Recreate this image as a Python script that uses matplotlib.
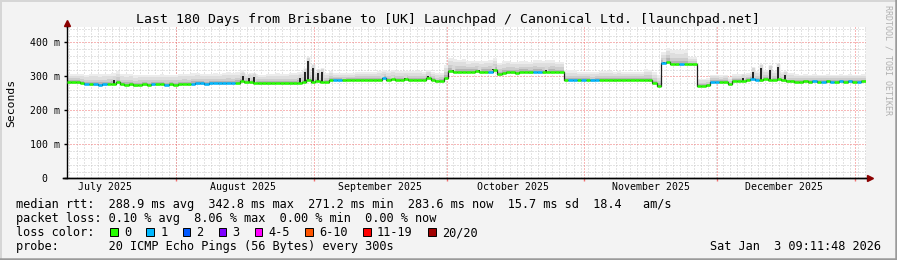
import numpy as np
import matplotlib
matplotlib.use('Agg')
import matplotlib.pyplot as plt
from matplotlib.lines import Line2D
from datetime import datetime

W, H = 897, 260
start = datetime(2025, 7, 7, 9, 11, 48)

# median rtt per day (ms), day 0 = Jul 7
median = [
    282, 282, 282, 281, 277, 276, 276, 275, 276, 277,
    278, 283, 276, 275, 276, 274, 275, 276, 275, 276,
    276, 277, 275, 276, 275, 276, 277, 276, 278, 279,
    279, 278, 279, 280, 279, 279, 280, 279, 281, 286,
    282, 283, 280, 279, 279, 279, 279, 280, 279, 279,
    279, 279, 281, 283, 290, 284, 286, 284, 283, 289,
    289, 289, 288, 289, 289, 289, 290, 289, 289, 289,
    289, 294, 290, 292, 289, 289, 291, 289, 289, 289,
    290, 295, 289, 285, 286, 296, 316, 314, 313, 314,
    313, 314, 315, 313, 314, 314, 320, 306, 310, 312,
    312, 311, 313, 313, 312, 314, 313, 312, 313, 314,
    313, 313, 289, 289, 289, 290, 289, 289, 288, 289,
    289, 289, 289, 288, 289, 289, 290, 289, 289, 289,
    289, 288, 280, 272, 340, 343, 336, 335, 335, 336,
    335, 335, 272, 272, 273, 284, 284, 283, 284, 276,
    286, 286, 286, 289, 292, 290, 288, 292, 290, 289,
    291, 288, 285, 285, 284, 284, 285, 284, 285, 284,
    284, 285, 284, 284, 285, 284, 285, 284, 284, 285,
]

# smoke spread above median, one value per 5-day block (ms)
spread5 = [20, 24, 24, 22, 22, 24, 22, 24, 20, 22, 24, 20,
           16, 18, 20, 20, 18, 28, 24, 26, 24, 26, 22, 18,
           20, 18, 24, 32, 16, 16, 16, 20, 18, 16, 16, 16]

# days where median came with 1 lost ping
loss1_days = [4, 6, 7, 8, 19, 22, 28, 29, 30, 31, 32, 33, 34, 35, 36, 37,
              60, 61, 71, 95, 105, 106, 113, 114, 116, 118, 119, 134, 138,
              145, 146, 154, 155, 168, 170, 172, 174, 176, 178]

# short latency spikes (day, peak ms)
spike_day = [10.7, 39.8, 41.0, 42.3, 52.6, 53.7, 54.4, 55.5, 56.6, 57.5,
             71.0, 73.3, 76.2, 81.4, 87.0, 93.0, 96.0, 108.0, 134.6,
             152.5, 154.6, 156.5, 158.5, 160.3, 161.8]
spike_top = [288, 300, 296, 298, 296, 313, 345, 323, 309, 313,
             296, 293, 296, 302, 320, 318, 322, 318, 343,
             296, 314, 323, 320, 328, 304]

month_starts = [datetime(2025, 8, 1), datetime(2025, 9, 1), datetime(2025, 10, 1),
                datetime(2025, 11, 1), datetime(2025, 12, 1), datetime(2026, 1, 1)]
month_mids = [datetime(2025, 7, 16), datetime(2025, 8, 16), datetime(2025, 9, 16),
              datetime(2025, 10, 16), datetime(2025, 11, 16), datetime(2025, 12, 16)]
month_labels = ['July 2025', 'August 2025', 'September 2025',
                'October 2025', 'November 2025', 'December 2025']

loss_labels = ['0', '1', '2', '3', '4-5', '6-10', '11-19', '20/20']
loss_colors = ['#26ff00', '#00b8ff', '#0059ff', '#7e00ff',
               '#ff00ff', '#ff5500', '#ff0000', '#a10000']

MONO = 'DejaVu Sans Mono'
YTOP = 445.9


def days(d):
    return (d - start).total_seconds() / 86400


fig = plt.figure(figsize=(W / 100, H / 100), dpi=100, facecolor='#f3f3f3')
ax = fig.add_axes([66.7 / W, 1 - 178.3 / H, (865.5 - 66.7) / W, (178.3 - 26.7) / H])
ax.set_facecolor('white')
ax.set_xlim(0, 180)
ax.set_ylim(0, YTOP)

# grid (dotted)
dots = (0, (1, 2))
minor_v = np.arange(days(month_starts[0]) - 1.6 * 15, 180, 1.6)
ax.vlines(minor_v, 0, YTOP, color='#c8c8c8', lw=0.72, ls=dots, zorder=1)
minor_h = [v for v in range(20, 446, 20) if v % 100]
ax.hlines(minor_h, 0, 180, color='#c8c8c8', lw=0.72, ls=dots, zorder=1)
ax.vlines([days(m) for m in month_starts], 0, YTOP, color='#f07070', lw=0.72,
          ls=dots, zorder=1)
ax.hlines([100, 200, 300, 400], 0, 180, color='#f07070', lw=0.72,
          ls=dots, zorder=1)

# smoke
med = np.array(median, float)
sp = np.repeat(spread5, 5).astype(float)
x = np.arange(len(med) + 1)


def ext(a):
    return np.append(a, a[-1])


for lo, hi, c in [(med - 4, med + 1.3 * sp, '#ececec'),
                  (med - 4, med + sp, '#dedede'),
                  (med - 3, med + 0.6 * sp, '#cdcdcd'),
                  (med - 2, med + 0.3 * sp, '#b4b4b4')]:
    ax.fill_between(x, ext(lo), ext(hi), step='post', color=c, lw=0, zorder=2)

base = med[np.array(spike_day).astype(int)]
ax.vlines(spike_day, base, np.array(spike_top) + 12, color='#d8d8d8', lw=2.5, zorder=2)
ax.vlines(spike_day, base, spike_top, color='#151515', lw=1.3, zorder=4)

# median, coloured by loss
ax.step(x, ext(med), where='post', color='#202020', lw=0.9, zorder=4)
d = np.arange(len(med))
is1 = np.isin(d, loss1_days)
ax.hlines(med[~is1], d[~is1], d[~is1] + 1, color=loss_colors[0], lw=1.8, zorder=5)
ax.hlines(med[is1], d[is1], d[is1] + 1, color=loss_colors[1], lw=1.8, zorder=5)

# axes
for s in ['top', 'right']:
    ax.spines[s].set_visible(False)
ax.spines['left'].set_linewidth(1)
ax.spines['bottom'].set_linewidth(1)
ax.spines['bottom'].set_bounds(-0.8, 180)
ax.add_line(Line2D([-0.0045, 1.003], [0, 0], transform=ax.transAxes, color='black',
                   lw=1, clip_on=False))
ax.add_line(Line2D([0, 0], [1, 1.02], transform=ax.transAxes, color='black',
                   lw=1, clip_on=False))
ax.plot([0], [1.025], marker='^', color='#8b0000', ms=4.5, transform=ax.transAxes,
        clip_on=False)
ax.plot([1.006], [0], marker='>', color='#8b0000', ms=4.5, transform=ax.transAxes,
        clip_on=False)

ax.set_yticks([0, 100, 200, 300, 400])
ax.set_yticklabels(['  0  ', '100 m', '200 m', '300 m', '400 m'])
ax.tick_params(axis='y', length=2.5, width=1, pad=2.6, labelsize=7.1)
ax.set_xticks([days(m) for m in month_starts])
ax.set_xticklabels([])
ax.set_xticks([days(m) for m in month_mids], minor=True)
ax.set_xticklabels(month_labels, minor=True)
ax.tick_params(axis='x', which='major', length=2.5, width=1, color='#f07070')
ax.tick_params(axis='x', which='minor', length=0, pad=3, labelsize=7.1)
for lab in ax.get_yticklabels() + ax.get_xticklabels(minor=True):
    lab.set_family(MONO)


def ftext(px, py, s, **kw):
    kw.setdefault('family', MONO)
    kw.setdefault('fontsize', 8.6)
    return fig.text(px / W, 1 - py / H, s, **kw)


ftext(448, 23, 'Last 180 Days from Brisbane to [UK] Launchpad / Canonical Ltd. '
      '[launchpad.net]', fontsize=9.5, ha='center', va='baseline')
ftext(11, 102.5, 'Seconds', fontsize=8.2, rotation=90, ha='center', va='center')
ftext(888, 5, 'RRDTOOL / TOBI OETIKER', fontsize=6, color='#b0b0b0',
      rotation=270, ha='center', va='top')

cw = 7.22
ftext(16, 208, 'median rtt:  288.9 ms avg  342.8 ms max  271.2 ms min  '
      '283.6 ms now  15.7 ms sd  18.4   am/s', va='baseline')
ftext(16, 222, 'packet loss: 0.10 % avg  8.06 % max  0.00 % min  0.00 % now',
      va='baseline')
ftext(16, 236, 'loss color:', va='baseline')
col = 13
for lab, c in zip(loss_labels, loss_colors):
    bx = 16 + col * cw + 0.5
    fig.patches.append(plt.Rectangle((bx / W, 1 - 236.3 / H), 7.5 / W, 8 / H,
                                     transform=fig.transFigure, facecolor=c,
                                     edgecolor='black', lw=0.7))
    ftext(16 + (col + 2) * cw, 236, lab, va='baseline')
    col += 2 + len(lab) + 2
ftext(16, 250, 'probe:       20 ICMP Echo Pings (56 Bytes) every 300s', va='baseline')
ftext(881, 250, 'Sat Jan  3 09:11:48 2026', ha='right', va='baseline')

# frame
fig.lines.append(Line2D([0, 1], [1 - 0.5 / H, 1 - 0.5 / H], transform=fig.transFigure,
                        color='#d6d6d6', lw=1.4))
fig.lines.append(Line2D([0.5 / W, 0.5 / W], [0, 1], transform=fig.transFigure,
                        color='#d6d6d6', lw=1.4))
fig.lines.append(Line2D([0, 1], [1.2 / H, 1.2 / H], transform=fig.transFigure,
                        color='#9a9a9a', lw=1.8))
fig.lines.append(Line2D([1 - 1.2 / W, 1 - 1.2 / W], [0, 1], transform=fig.transFigure,
                        color='#9a9a9a', lw=1.8))

fig.savefig('out.png', dpi=100, facecolor=fig.get_facecolor())
